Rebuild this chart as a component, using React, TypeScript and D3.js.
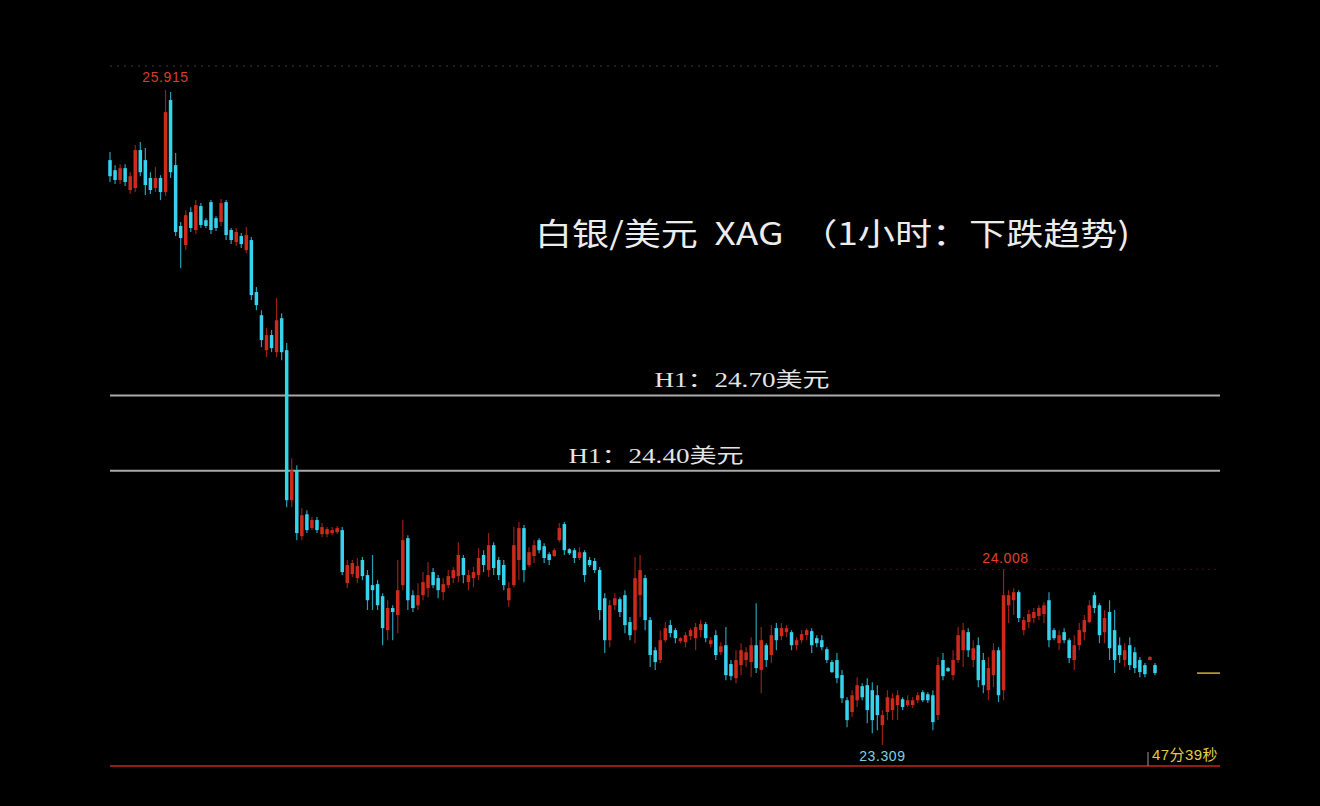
import { useEffect } from 'react';
import * as d3 from 'd3';

// 1-hour candles (price in USD)
const opens = [
  25.636, 25.596, 25.557, 25.604, 25.517, 25.525, 25.676, 25.636, 25.565, 25.525,
  25.565, 25.509, 25.875, 25.616, 25.374, 25.298, 25.429, 25.358, 25.453, 25.397,
  25.469, 25.405, 25.39, 25.469, 25.358, 25.31, 25.334, 25.278, 25.318, 25.111,
  25.019, 24.88, 24.94, 24.872, 25.007, 24.88, 24.283, 24.402, 24.14, 24.227,
  24.172, 24.204, 24.148, 24.148, 24.152, 24.156, 24.164, 23.953, 23.989, 23.973,
  24.045, 23.985, 23.945, 23.949, 23.901, 23.766, 23.854, 23.826, 23.945, 24.132,
  23.905, 23.865, 23.905, 23.933, 23.997, 23.973, 23.917, 23.945, 23.973, 23.981,
  24.053, 23.957, 23.973, 23.985, 24.065, 24.005, 24.104, 24.045, 24.025, 23.885,
  23.945, 24.045, 24.172, 24.025, 24.061, 24.124, 24.1, 24.068, 24.061, 24.124,
  24.188, 24.088, 24.084, 24.053, 24.076, 24.045, 24.041, 24.005, 23.893, 23.726,
  23.865, 23.889, 23.905, 23.798, 23.766, 23.905, 23.973, 23.806, 23.686, 23.647,
  23.726, 23.786, 23.766, 23.722, 23.718, 23.742, 23.734, 23.766, 23.79, 23.71,
  23.746, 23.678, 23.706, 23.631, 23.575, 23.627, 23.647, 23.639, 23.706, 23.607,
  23.706, 23.667, 23.774, 23.742, 23.758, 23.758, 23.706, 23.726, 23.746, 23.762,
  23.734, 23.726, 23.69, 23.639, 23.647, 23.587, 23.487, 23.44, 23.487, 23.543,
  23.547, 23.527, 23.507, 23.388, 23.44, 23.448, 23.468, 23.491, 23.468, 23.468,
  23.487, 23.519, 23.511, 23.507, 23.428, 23.647, 23.615, 23.587, 23.647, 23.686,
  23.758, 23.647, 23.706, 23.647, 23.527, 23.587, 23.686, 23.527, 23.865, 23.885,
  23.917, 23.766, 23.798, 23.814, 23.822, 23.83, 23.885, 23.766, 23.714, 23.758,
  23.726, 23.647, 23.706, 23.758, 23.798, 23.905, 23.865, 23.758, 23.838, 23.766,
  23.706, 23.647, 23.706, 23.678, 23.647, 23.627, 23.647, 23.627,
];

const highs = [
  25.668, 25.616, 25.62, 25.62, 25.588, 25.696, 25.708, 25.684, 25.588, 25.608,
  25.576, 25.915, 25.907, 25.664, 25.39, 25.437, 25.449, 25.477, 25.465, 25.405,
  25.477, 25.413, 25.481, 25.477, 25.366, 25.366, 25.346, 25.37, 25.33, 25.131,
  25.039, 24.968, 24.96, 25.087, 25.027, 24.908, 24.45, 24.422, 24.251, 24.243,
  24.216, 24.216, 24.192, 24.176, 24.176, 24.18, 24.176, 24.045, 24.045, 24.053,
  24.057, 24.005, 24.065, 23.965, 23.913, 23.885, 23.865, 24.045, 24.204, 24.144,
  23.925, 23.953, 23.997, 24.037, 24.013, 23.985, 23.973, 24.005, 24.017, 24.116,
  24.065, 24.005, 24.017, 24.092, 24.084, 24.152, 24.116, 24.057, 24.045, 23.957,
  24.176, 24.196, 24.184, 24.096, 24.124, 24.132, 24.112, 24.076, 24.092, 24.192,
  24.196, 24.092, 24.092, 24.096, 24.084, 24.057, 24.053, 24.017, 23.913, 23.885,
  23.913, 23.897, 23.925, 23.818, 24.057, 24.065, 23.985, 23.818, 23.698, 23.766,
  23.798, 23.806, 23.774, 23.738, 23.758, 23.774, 23.794, 23.806, 23.798, 23.738,
  23.766, 23.718, 23.778, 23.647, 23.686, 23.714, 23.698, 23.738, 23.873, 23.778,
  23.714, 23.786, 23.794, 23.794, 23.786, 23.766, 23.738, 23.766, 23.774, 23.774,
  23.746, 23.746, 23.698, 23.647, 23.675, 23.607, 23.499, 23.527, 23.579, 23.555,
  23.575, 23.559, 23.547, 23.448, 23.527, 23.515, 23.527, 23.499, 23.507, 23.499,
  23.519, 23.527, 23.519, 23.527, 23.659, 23.675, 23.619, 23.686, 23.778, 23.794,
  23.774, 23.726, 23.738, 23.675, 23.659, 23.714, 23.698, 24.008, 23.925, 23.933,
  23.925, 23.818, 23.846, 23.854, 23.865, 23.877, 23.917, 23.774, 23.766, 23.774,
  23.734, 23.746, 23.794, 23.826, 23.885, 23.917, 23.873, 23.846, 23.885, 23.846,
  23.738, 23.714, 23.738, 23.698, 23.659, 23.635, 23.663, 23.635,
];

const lows = [
  25.549, 25.541, 25.541, 25.533, 25.501, 25.509, 25.572, 25.497, 25.501, 25.509,
  25.477, 25.493, 25.565, 25.334, 25.206, 25.278, 25.35, 25.342, 25.366, 25.366,
  25.342, 25.354, 25.374, 25.318, 25.302, 25.294, 25.286, 25.266, 25.079, 25.039,
  24.892, 24.852, 24.872, 24.852, 24.84, 24.255, 24.255, 24.124, 24.124, 24.152,
  24.164, 24.152, 24.136, 24.136, 24.144, 24.148, 23.985, 23.933, 23.977, 23.953,
  23.965, 23.846, 23.846, 23.846, 23.706, 23.726, 23.726, 23.754, 23.925, 23.846,
  23.838, 23.846, 23.885, 23.897, 23.933, 23.893, 23.885, 23.933, 23.953, 23.957,
  23.953, 23.925, 23.937, 23.965, 23.997, 23.977, 23.985, 23.965, 23.925, 23.858,
  23.937, 23.965, 23.957, 24.017, 24.033, 24.072, 24.033, 24.025, 24.057, 24.116,
  24.065, 24.065, 24.033, 24.045, 23.957, 24.017, 23.993, 23.806, 23.675, 23.698,
  23.846, 23.818, 23.754, 23.726, 23.714, 23.818, 23.766, 23.619, 23.607, 23.635,
  23.718, 23.738, 23.714, 23.714, 23.698, 23.726, 23.686, 23.738, 23.718, 23.698,
  23.647, 23.667, 23.567, 23.567, 23.555, 23.587, 23.619, 23.579, 23.595, 23.515,
  23.619, 23.635, 23.686, 23.726, 23.738, 23.686, 23.686, 23.714, 23.726, 23.675,
  23.698, 23.686, 23.635, 23.595, 23.555, 23.476, 23.38, 23.42, 23.46, 23.487,
  23.396, 23.356, 23.368, 23.309, 23.408, 23.408, 23.408, 23.448, 23.46, 23.456,
  23.476, 23.48, 23.476, 23.368, 23.408, 23.567, 23.599, 23.567, 23.635, 23.619,
  23.659, 23.619, 23.539, 23.515, 23.487, 23.539, 23.48, 23.487, 23.794, 23.826,
  23.798, 23.746, 23.774, 23.794, 23.806, 23.794, 23.698, 23.726, 23.686, 23.714,
  23.635, 23.607, 23.686, 23.726, 23.794, 23.834, 23.714, 23.714, 23.647, 23.595,
  23.635, 23.619, 23.607, 23.595, 23.579, 23.579, 23.647, 23.587,
];

const closes = [
  25.572, 25.557, 25.604, 25.549, 25.572, 25.676, 25.588, 25.537, 25.517, 25.565,
  25.509, 25.827, 25.588, 25.35, 25.326, 25.417, 25.366, 25.457, 25.378, 25.374,
  25.358, 25.366, 25.465, 25.338, 25.318, 25.35, 25.302, 25.338, 25.099, 25.059,
  24.92, 24.94, 24.888, 24.999, 24.872, 24.283, 24.402, 24.152, 24.223, 24.164,
  24.204, 24.164, 24.176, 24.168, 24.164, 24.172, 23.997, 24.025, 24.033, 24.021,
  23.981, 23.885, 23.925, 23.865, 23.774, 23.854, 23.838, 23.925, 24.124, 23.885,
  23.854, 23.905, 23.957, 23.985, 23.945, 23.925, 23.949, 23.981, 24.005, 24.065,
  23.985, 23.985, 23.997, 24.053, 24.025, 24.104, 24.013, 23.985, 23.945, 23.933,
  24.104, 24.172, 24.005, 24.076, 24.104, 24.084, 24.053, 24.045, 24.084, 24.172,
  24.084, 24.072, 24.053, 24.076, 23.985, 24.025, 24.005, 23.846, 23.726, 23.865,
  23.893, 23.838, 23.786, 23.746, 23.973, 24.005, 23.806, 23.667, 23.639, 23.726,
  23.774, 23.754, 23.734, 23.734, 23.746, 23.766, 23.778, 23.79, 23.734, 23.726,
  23.667, 23.702, 23.587, 23.583, 23.647, 23.686, 23.678, 23.706, 23.615, 23.726,
  23.647, 23.746, 23.726, 23.774, 23.774, 23.706, 23.726, 23.75, 23.766, 23.706,
  23.714, 23.698, 23.647, 23.599, 23.575, 23.495, 23.408, 23.507, 23.547, 23.499,
  23.448, 23.408, 23.428, 23.428, 23.499, 23.495, 23.507, 23.46, 23.487, 23.487,
  23.507, 23.487, 23.487, 23.4, 23.627, 23.583, 23.603, 23.647, 23.746, 23.766,
  23.686, 23.694, 23.567, 23.547, 23.615, 23.686, 23.507, 23.905, 23.905, 23.917,
  23.814, 23.806, 23.83, 23.838, 23.854, 23.865, 23.726, 23.734, 23.746, 23.726,
  23.655, 23.706, 23.766, 23.806, 23.865, 23.854, 23.746, 23.814, 23.694, 23.647,
  23.667, 23.686, 23.627, 23.615, 23.599, 23.591, 23.659, 23.595,
];

// horizontal levels drawn by the analyst
const levels = [24.7, 24.4];
const levelLabels = ['H1：24.70美元', 'H1：24.40美元'];
const levelLabelX = [742, 656];

const title = '白银/美元  XAG  （1小时：下跌趋势)';
const countdown = '47分39秒';

const W = 1320;
const H = 806;
const left = 110;
const right = 1220;

const UP = '#cc2a1c';
const DOWN = '#36d3ee';

export default function App() {
  useEffect(() => {
    document.body.style.margin = '0';
    document.body.style.background = '#000';
  }, []);

  const n = opens.length;
  const x = d3.scaleLinear().domain([0, n - 1]).range([left, 1155]);
  const hi = d3.max(highs) ?? 0;
  const lo = d3.min(lows) ?? 0;
  const y = d3.scaleLinear().domain([lo, hi]).range([745, 90]);

  const hiIdx = d3.maxIndex(highs);
  const loIdx = d3.minIndex(lows);
  // local high of the last rebound
  const rebIdx = d3.maxIndex(highs.slice(150)) + 150;
  const last = closes[n - 1];

  const small = "'Liberation Sans', Arial, 'Noto Sans CJK SC', sans-serif";

  return (
    <div style={{ position: 'absolute', left: 0, top: 0, width: W, height: H, background: '#000' }}>
      <svg width={W} height={H} style={{ display: 'block' }}>
        <rect width={W} height={H} fill="#000" />

        {/* top border, dotted */}
        <line x1={left} x2={right} y1={66} y2={66} stroke="#3a3a3a" strokeDasharray="2,5" />
        {/* dotted line at rebound high */}
        <line x1={650} x2={right} y1={y(highs[rebIdx])} y2={y(highs[rebIdx])} stroke="#3c1a16" strokeDasharray="2,4" />

        {levels.map((lv, i) => (
          <g key={lv}>
            <line x1={left} x2={right} y1={y(lv)} y2={y(lv)} stroke="#a9a9a9" strokeWidth={2} />
            <text
              x={levelLabelX[i]}
              y={y(lv) - 8}
              textAnchor="middle"
              fill="#e4e4e4"
              fontSize={20}
              fontFamily="'Liberation Serif', 'DejaVu Serif', 'Noto Sans CJK SC', serif"
              textLength={175}
              lengthAdjust="spacingAndGlyphs"
            >
              {levelLabels[i]}
            </text>
          </g>
        ))}

        {opens.map((o, i) => {
          const c = closes[i];
          const up = c >= o;
          const col = up ? UP : DOWN;
          const cx = x(i);
          const top = y(Math.max(o, c));
          const bh = Math.max(1.5, Math.abs(y(o) - y(c)));
          return (
            <g key={i}>
              <line x1={cx} x2={cx} y1={y(highs[i])} y2={y(lows[i])} stroke={col} strokeOpacity={0.75} strokeWidth={1.2} />
              <rect x={cx - 1.75} y={top} width={3.5} height={bh} fill={col} />
            </g>
          );
        })}

        {/* current price marker */}
        <line x1={1197} x2={right} y1={y(last)} y2={y(last)} stroke="#c9b23a" strokeWidth={1.5} />

        {/* bottom border */}
        <line x1={left} x2={right} y1={766} y2={766} stroke="#951c15" strokeWidth={2} />
        <line x1={1148} x2={1148} y1={752} y2={766} stroke="#9a9a9a" strokeWidth={1} />

        <text x={x(hiIdx)} y={y(hi) - 8} textAnchor="middle" fill="#d2402c" fontSize={14} letterSpacing={0.6} fontFamily={small}>
          {hi.toFixed(3)}
        </text>
        <text x={x(rebIdx) + 2} y={y(highs[rebIdx]) - 6} textAnchor="middle" fill="#e0402c" fontSize={14} letterSpacing={0.6} fontFamily={small}>
          {highs[rebIdx].toFixed(3)}
        </text>
        <text x={x(loIdx)} y={y(lo) + 16} textAnchor="middle" fill="#7fd0e0" fontSize={14} letterSpacing={0.6} fontFamily={small}>
          {lo.toFixed(3)}
        </text>
        <text x={1185} y={760} textAnchor="middle" fill="#e2cc44" fontSize={15} letterSpacing={0.4} fontFamily={small}>
          {countdown}
        </text>

        <text
          x={535}
          y={245}
          fill="#ececec"
          fontSize={31}
          fontFamily="'Noto Sans CJK SC', 'Noto Sans', sans-serif"
          textLength={595}
          lengthAdjust="spacingAndGlyphs"
          style={{ whiteSpace: 'pre' }}
        >
          {title}
        </text>
      </svg>
    </div>
  );
}
